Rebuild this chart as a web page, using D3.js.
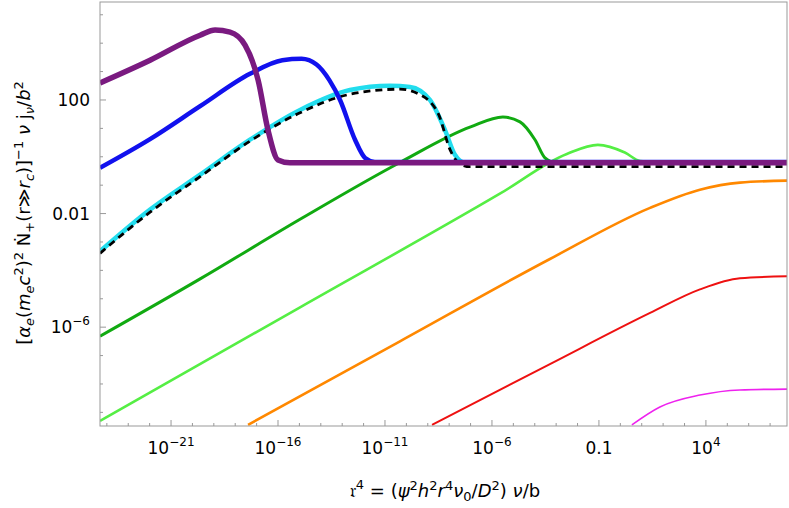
<!DOCTYPE html><html><head><meta charset="utf-8"><script src="https://cdn.jsdelivr.net/npm/d3@7"></script>
<style>body{margin:0;background:#fff}text{font-family:"DejaVu Sans",sans-serif}</style></head><body><svg id="c" width="789" height="508"></svg>
<script>
// data as [log10 x, log10 y]
const purple=[[-24.32,2.60],[-21.98,3.40],[-19.64,4.28],[-18.94,4.46],[-18.24,4.39],[-17.54,3.93],[-16.93,2.70],[-16.47,0.95],[-16.0,-0.11],[-15.44,-0.21],[7.79,-0.21]];
const blue=[[-24.32,-0.39],[-21.98,0.62],[-19.64,1.78],[-17.31,2.92],[-15.8,3.40],[-14.9,3.45],[-14.2,3.25],[-13.6,2.7],[-13.10,2.0],[-12.40,0.60],[-11.93,-0.04],[-11.47,-0.18],[7.79,-0.18]];
const cyan=[[-24.32,-3.33],[-21.98,-1.86],[-19.64,-0.63],[-17.31,0.60],[-14.97,1.65],[-12.64,2.35],[-10.77,2.50],[-9.83,2.46],[-8.90,2.0],[-8.20,0.95],[-7.73,0.07],[-7.26,-0.21],[7.79,-0.21]];
const dashed=[[-24.32,-3.40],[-21.98,-1.95],[-19.64,-0.70],[-17.31,0.55],[-14.97,1.55],[-12.64,2.20],[-10.30,2.38],[-9.4,2.2],[-8.5,1.5],[-7.96,0.25],[-7.5,-0.25],[-7.03,-0.35],[7.79,-0.35]];
const green=[[-24.32,-6.32],[-19.64,-4.3],[-14.97,-2.2],[-10.30,-0.2],[-7.0,1.05],[-5.49,1.40],[-4.69,1.23],[-3.99,0.6],[-3.52,-0.04],[-3.06,-0.2],[7.79,-0.2]];
const lightgreen=[[-24.32,-9.30],[-14.97,-5.3],[-5.63,-1.3],[-2.5,0.1],[-1.05,0.42],[0.21,0.15],[0.92,-0.15],[2.0,-0.2],[7.79,-0.2]];
const orange=[[-17.40,-9.44],[-10.3,-6.5],[-3.29,-3.6],[1.39,-1.8],[3.72,-1.16],[5.59,-0.91],[7.79,-0.84]];
const red=[[-8.80,-9.44],[-3.29,-7.3],[1.39,-5.5],[3.72,-4.67],[5.59,-4.28],[7.79,-4.21]];
const magenta=[[0.54,-9.44],[1.85,-8.81],[3.72,-8.39],[5.59,-8.21],[7.79,-8.18]];
const xTickExp=[-21,-16,-11,-6,-1,4];
const yTickExp=[2,-2,-6];

const svg=d3.select("#c");
const L=100,R=787,T=2,B=426;
const x=d3.scaleLog().domain([Math.pow(10,-24.32),Math.pow(10,7.79)]).range([L,R]);
const y=d3.scaleLog().domain([Math.pow(10,-9.48),Math.pow(10,5.45)]).range([B,T]);
svg.append("clipPath").attr("id","cp").append("rect").attr("x",L).attr("y",T).attr("width",R-L).attr("height",B-T);
const g=svg.append("g").attr("clip-path","url(#cp)");
const line=d3.line().x(d=>x(Math.pow(10,d[0]))).y(d=>y(Math.pow(10,d[1]))).curve(d3.curveMonotoneX);
const series=[[magenta,"#ee22ee",1.6],[red,"#ee1111",2],[orange,"#ff8800",2.6],[lightgreen,"#55ee44",2.6],[green,"#11aa11",3],[cyan,"#22ddee",4.5],[dashed,"#000",2.8,"7,5"],[blue,"#1111ee",4.5],[purple,"#7a1a80",5.5]];
series.forEach(s=>{g.append("path").attr("d",line(s[0])).attr("fill","none").attr("stroke",s[1]).attr("stroke-width",s[2]).attr("stroke-dasharray",s[3]||null)});
svg.append("rect").attr("x",L).attr("y",T).attr("width",R-L).attr("height",B-T).attr("fill","none").attr("stroke","#999").attr("stroke-width",1);
for(let e=-24;e<=7;e++){const px=x(Math.pow(10,e));svg.append("line").attr("x1",px).attr("x2",px).attr("y1",B).attr("y2",B-(xTickExp.includes(e)?6:3)).attr("stroke","#999");}
for(let e=-9;e<=5;e++){const py=y(Math.pow(10,e));svg.append("line").attr("x1",L).attr("x2",L+(yTickExp.includes(e)?6:3)).attr("y1",py).attr("y2",py).attr("stroke","#999");}
function expLabel(sel,e){
 if(e===-1){sel.text("0.1");return;}
 if(e===-2){sel.text("0.01");return;}
 if(e===2){sel.text("100");return;}
 sel.append("tspan").text("10");sel.append("tspan").attr("dy",-8).attr("font-size",12).text(e<0?"\u2212"+(-e):e);
}
xTickExp.forEach(e=>{const t=svg.append("text").attr("x",x(Math.pow(10,e))).attr("y",B+28).attr("text-anchor","middle").attr("font-size",17);expLabel(t,e);});
yTickExp.forEach(e=>{const t=svg.append("text").attr("x",L-10).attr("y",y(Math.pow(10,e))+6).attr("text-anchor","end").attr("font-size",17);expLabel(t,e);});
const xt=svg.append("text").attr("x",445).attr("y",497).attr("text-anchor","middle").attr("font-size",18).attr("font-family","DejaVu Serif,serif");
xt.append("tspan").text("\uD835\uDD2F");xt.append("tspan").attr("font-size",13).attr("dy",-8).text("4");
xt.append("tspan").attr("dy",8).text(" = (");xt.append("tspan").attr("font-style","italic").text("\u03C8");xt.append("tspan").attr("font-size",13).attr("dy",-7).text("2");
xt.append("tspan").attr("dy",7).attr("font-style","italic").text("h");xt.append("tspan").attr("font-size",13).attr("dy",-7).text("2");
xt.append("tspan").attr("dy",7).attr("font-style","italic").text("r");xt.append("tspan").attr("font-size",13).attr("dy",-7).text("4");
xt.append("tspan").attr("dy",7).attr("font-style","italic").text("\u03BD");xt.append("tspan").attr("font-size",13).attr("dy",4).text("0");
xt.append("tspan").attr("dy",-4).text("/");xt.append("tspan").attr("font-style","italic").text("D");xt.append("tspan").attr("font-size",13).attr("dy",-7).text("2");
xt.append("tspan").attr("dy",7).text(") ");xt.append("tspan").attr("font-style","italic").text("\u03BD");xt.append("tspan").text("/b");
const yt=svg.append("text").attr("transform","translate(30,213) rotate(-90)").attr("text-anchor","middle").attr("font-size",18).attr("font-family","DejaVu Serif,serif");
yt.append("tspan").text("[");yt.append("tspan").attr("font-style","italic").text("\u03B1");yt.append("tspan").attr("font-size",13).attr("dy",4).attr("font-style","italic").text("e");
yt.append("tspan").attr("dy",-4).text("(");yt.append("tspan").attr("font-style","italic").text("m");yt.append("tspan").attr("font-size",13).attr("dy",4).attr("font-style","italic").text("e");
yt.append("tspan").attr("dy",-4).attr("font-style","italic").text("c");yt.append("tspan").attr("font-size",13).attr("dy",-7).text("2");
yt.append("tspan").attr("dy",7).text(")");yt.append("tspan").attr("font-size",13).attr("dy",-7).text("2");
yt.append("tspan").attr("dy",7).text(" \u1E44");yt.append("tspan").attr("font-size",13).attr("dy",4).text("+");
yt.append("tspan").attr("dy",-4).text("(r\u226B");yt.append("tspan").attr("font-style","italic").text("r");yt.append("tspan").attr("font-size",13).attr("dy",4).attr("font-style","italic").text("c");
yt.append("tspan").attr("dy",-4).text(")]");yt.append("tspan").attr("font-size",13).attr("dy",-7).text("\u22121");
yt.append("tspan").attr("dy",7).attr("font-style","italic").text(" \u03BD ");yt.append("tspan").text("j");yt.append("tspan").attr("font-size",13).attr("dy",4).attr("font-style","italic").text("\u03BD");
yt.append("tspan").attr("dy",-4).text("/");yt.append("tspan").attr("font-style","italic").text("b");yt.append("tspan").attr("font-size",13).attr("dy",-7).text("2");
</script></body></html>
